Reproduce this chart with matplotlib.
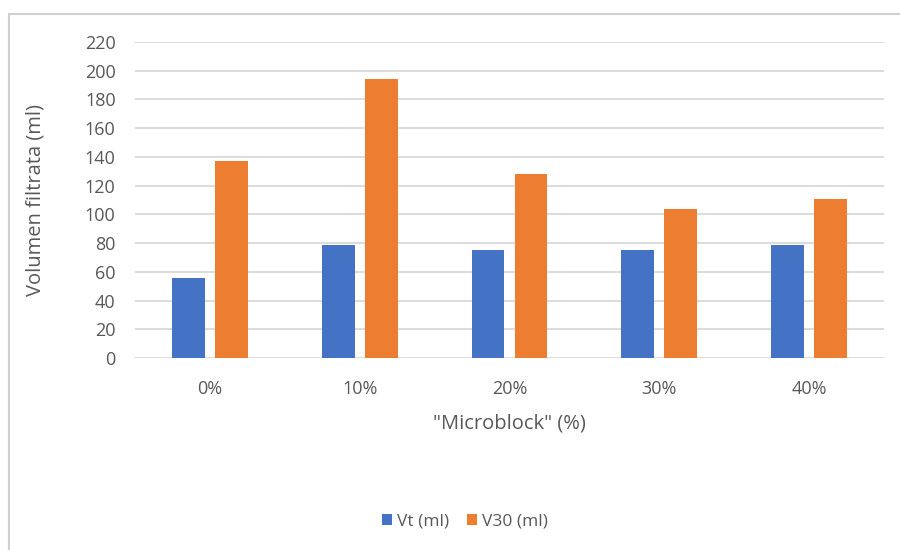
import numpy as np, matplotlib
matplotlib.use("Agg"); import matplotlib.pyplot as plt
from matplotlib.patches import Rectangle
GREY="#595959";GRID="#d9d9d9";BLUE="#4472c4";ORANGE="#ed7d31"
plt.rcParams.update({"font.family":["Open Sans","DejaVu Sans"],"text.color":GREY,
  "xtick.color":GREY,"ytick.color":GREY,"axes.labelcolor":GREY})
categories=["0%","10%","20%","30%","40%"]
vt=[56,79,75,75,79]
v30=[137,194,128,104,111]
series_names=["Vt (ml)","V30 (ml)"]
W,H=900,550
fig=plt.figure(figsize=(9,5.5),dpi=100)
# plot area in pixels: x 135..884, y 42..358
ax=fig.add_axes([135/W,1-358/H,(884-135)/W,(358-42)/H])
x=np.arange(len(categories));bw=0.22;gap=0.067
ax.bar(x-(bw+gap)/2,vt,bw,color=BLUE,label=series_names[0],zorder=3)
ax.bar(x+(bw+gap)/2,v30,bw,color=ORANGE,label=series_names[1],zorder=3)
ax.set_xlim(-0.5,len(categories)-0.5);ax.set_ylim(0,220)
ax.set_yticks(np.arange(0,221,20))
ax.set_xticks(x);ax.set_xticklabels(categories)
ax.tick_params(length=0,labelsize=13)
ax.tick_params(axis="x",pad=16);ax.tick_params(axis="y",pad=14)
ax.grid(axis="y",color=GRID,lw=1.3,zorder=0)
for s in ax.spines.values():s.set_visible(False)
ax.set_ylabel("Volumen filtrata (ml)",fontsize=14.5,labelpad=28)
ax.set_xlabel('"Microblock" (%)',fontsize=14.5,labelpad=11)
ax.legend(loc="center",bbox_to_anchor=(465/W,1-522/H),bbox_transform=fig.transFigure,
  ncol=2,frameon=False,fontsize=12.5,handlelength=0.6,handleheight=0.6,handletextpad=0.3,columnspacing=1.0)
fig.patches.append(Rectangle((9/W,-0.1),1.2,1-14/H+0.1,transform=fig.transFigure,
  fill=False,ec="#d0d0d0",lw=1.5,zorder=0))
fig.savefig("out.png",dpi=100)
